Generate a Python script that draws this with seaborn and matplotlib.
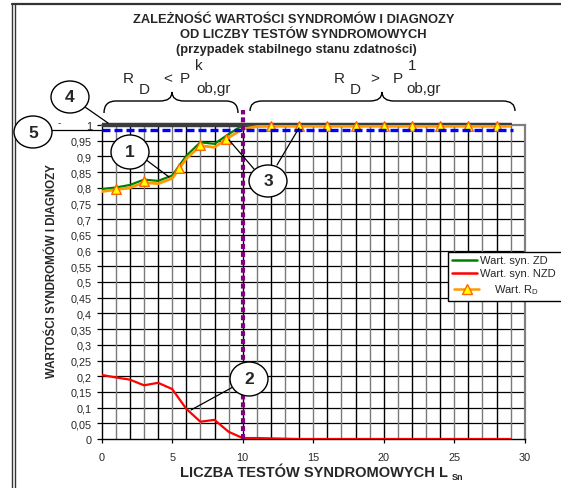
import numpy as np
import pandas as pd
import matplotlib
matplotlib.use("Agg")
import matplotlib.pyplot as plt
import seaborn as sns
from matplotlib.patches import Ellipse, Rectangle, PathPatch
from matplotlib.path import Path
from matplotlib.lines import Line2D

# ---- data -------------------------------------------------------------
tests = list(range(30))  # number of syndrome tests L_Sn
syn_zd = [0.796, 0.801, 0.809, 0.826, 0.822, 0.839, 0.902, 0.945, 0.940, 0.971,
          0.999, 1.0, 1.0, 1.0, 1.0, 1.0, 1.0, 1.0, 1.0, 1.0,
          1.0, 1.0, 1.0, 1.0, 1.0, 1.0, 1.0, 1.0, 1.0, 1.0]
syn_nzd = [0.204, 0.196, 0.189, 0.171, 0.179, 0.159, 0.096, 0.055, 0.061, 0.023,
           0.003, 0.003, 0.002, 0.001, 0.0, 0.0, 0.0, 0.0, 0.0, 0.0,
           0.0, 0.0, 0.0, 0.0, 0.0, 0.0, 0.0, 0.0, 0.0, 0.0]
rd_line = [0.788, 0.794, 0.800, 0.817, 0.813, 0.830, 0.893, 0.934, 0.929, 0.960,
           0.987, 0.995, 0.997, 0.997, 0.997, 0.997, 0.997, 0.997, 0.997, 0.997,
           0.997, 0.997, 0.997, 0.997, 0.997, 0.997, 0.997, 0.997, 0.997, 0.997]
rd_mark_x = [1, 3, 5.5, 7, 8.8, 12, 14, 16, 18, 20, 22, 24, 26, 28]
rd_mark_y = [0.795, 0.822, 0.862, 0.936, 0.957, 0.997, 0.997, 0.997, 0.997,
             0.997, 0.997, 0.997, 0.997, 0.997]
p_threshold = 0.985     # blue dashed level (5)
upper_level = 1.0       # dark reference line (4)
switch_point = 10       # boundary between the two regimes

x_ticks = [0, 5, 10, 15, 20, 25, 30]
y_ticks = [round(v * 0.05, 2) for v in range(21)]
y_tick_labels = [("%g" % v).replace(".", ",") for v in y_ticks]

df = pd.DataFrame({"L": tests, "ZD": syn_zd, "NZD": syn_nzd, "RD": rd_line})
marks = pd.DataFrame({"L": rd_mark_x, "RD": rd_mark_y})

# ---- figure -----------------------------------------------------------
sns.set_style("white")
plt.rcParams["font.family"] = ["Liberation Sans", "DejaVu Sans"]

W, H = 561, 489
fig = plt.figure(figsize=(W / 100, H / 100), dpi=100)


def fx(x):
    return x / W


def fy(y):
    return 1 - y / H


ax = fig.add_axes([fx(101.7), fy(440), 423 / W, 314 / H])
ax.set_xlim(0, 30)
ax.set_ylim(0, 1)

# grid: horizontal every 0.05, vertical every unit (alternating shades)
for v in y_ticks[1:-1]:
    ax.axhline(v, color="black", lw=0.9, zorder=1)
for k in range(1, 30):
    ax.axvline(k, color="#000000" if k % 2 == 0 else "#7a7a7a", lw=1.0, zorder=1)

# reference line (4)
ax.plot([0, 29.1], [upper_level, upper_level], color="#3c3c3c", lw=3.2,
        solid_capstyle="butt", zorder=3, clip_on=False)

sns.lineplot(data=df, x="L", y="ZD", color="#008000", lw=1.6, ax=ax, zorder=4)
sns.lineplot(data=df, x="L", y="RD", color="#ff9900", lw=2.0, ax=ax, zorder=5)
sns.scatterplot(data=marks, x="L", y="RD", marker="^", s=48, color="#ffff00",
                edgecolor="#ff6600", linewidth=1.0, ax=ax, zorder=6, clip_on=False)
sns.lineplot(data=df, x="L", y="NZD", color="#ff0000", lw=1.6, ax=ax, zorder=4)

# threshold (5)
ax.plot([0, 29.2], [p_threshold, p_threshold], color="#0000ff", lw=2.4,
        dashes=(2.4, 1.2), zorder=7, clip_on=False)
# regime boundary
ax.plot([switch_point, switch_point], [0, 1.048], color="#800080", lw=3.0,
        dashes=(1.2, 0.7), zorder=8, clip_on=False)

ax.set_xticks(x_ticks)
ax.set_xticklabels([str(v) for v in x_ticks], fontsize=7.8)
ax.set_yticks(y_ticks)
ax.set_yticklabels(y_tick_labels, fontsize=7.8)
ax.tick_params(axis="y", direction="out", length=3.6, width=0.9, pad=3.5,
               left=True, color="black")
ax.tick_params(axis="x", direction="out", length=3, width=0.9, pad=6.5,
               bottom=True, color="black")
ax.set_xlabel("")
ax.set_ylabel("")
for side in ("left", "bottom"):
    ax.spines[side].set_color("black")
    ax.spines[side].set_linewidth(1.0)
for side in ("top", "right"):
    ax.spines[side].set_color("#808080")
    ax.spines[side].set_linewidth(1.6)
    ax.spines[side].set_zorder(2)

# ---- outer frame ------------------------------------------------------
for xx in (12.3, 14.7):
    fig.add_artist(Line2D([fx(xx), fx(xx)], [fy(5), 0], color="#333333", lw=1.0))
fig.add_artist(Line2D([fx(12.3), 1], [fy(5), fy(5)], color="#333333", lw=1.6))

# ---- titles -----------------------------------------------------------
title_kw = dict(fontsize=9.3, fontweight="bold", ha="center", va="center")
fig.text(fx(294), fy(20), "ZALEŻNOŚĆ WARTOŚCI SYNDROMÓW I DIAGNOZY", **title_kw)
fig.text(fx(303), fy(35), "OD LICZBY TESTÓW SYNDROMOWYCH", **title_kw)
fig.text(fx(296), fy(50), "(przypadek stabilnego stanu zdatności)", **title_kw)

fig.text(fx(52), fy(271), "WARTOŚCI SYNDROMÓW I DIAGNOZY", fontsize=8.3,
         fontweight="bold", rotation=90, ha="center", va="center")
fig.text(fx(314), fy(473), "LICZBA TESTÓW SYNDROMOWYCH L", fontsize=10.5,
         fontweight="bold", ha="center", va="center")
fig.text(fx(458), fy(478), "Sn", fontsize=6.5, fontweight="bold",
         ha="center", va="center")

# small stray mark at the top of the value axis
fig.text(fx(59), fy(123), "-", fontsize=7, ha="center", va="center")

# ---- braces and regime labels ------------------------------------------


def brace(x0, x1, xm, yb, ym, yt, r=12):
    pts = [(x0, yb), (x0, ym), (x0 + r, ym),
           (xm - r, ym),
           (xm, ym), (xm, yt),
           (xm, ym), (xm + r, ym),
           (x1 - r, ym),
           (x1, ym), (x1, yb)]
    codes = [Path.MOVETO, Path.CURVE3, Path.CURVE3,
             Path.LINETO,
             Path.CURVE3, Path.CURVE3,
             Path.CURVE3, Path.CURVE3,
             Path.LINETO,
             Path.CURVE3, Path.CURVE3]
    verts = [(fx(a), fy(b)) for a, b in pts]
    fig.add_artist(PathPatch(Path(verts, codes), transform=fig.transFigure,
                             fill=False, edgecolor="black", lw=1.0))


brace(104, 238, 172, 114, 102, 93)
brace(250, 515, 382, 112, 102, 93)

reg_kw = dict(fontsize=11, ha="center", va="center")
fig.text(fx(128), fy(79), "R", **reg_kw)
fig.text(fx(144), fy(90), "D", **reg_kw)
fig.text(fx(168), fy(79), "<", **reg_kw)
fig.text(fx(185), fy(79), "P", **reg_kw)
fig.text(fx(199), fy(66), "k", **reg_kw)
fig.text(fx(214), fy(89), "ob,gr", **reg_kw)

fig.text(fx(339), fy(79), "R", **reg_kw)
fig.text(fx(355), fy(90), "D", **reg_kw)
fig.text(fx(375), fy(79), ">", **reg_kw)
fig.text(fx(398), fy(79), "P", **reg_kw)
fig.text(fx(412), fy(66), "1", **reg_kw)
fig.text(fx(424), fy(89), "ob,gr", **reg_kw)

# ---- numbered callouts --------------------------------------------------


def callout(label, cx, cy, rx, ry, leaders):
    for (a, b), (c, d) in leaders:
        fig.add_artist(Line2D([fx(a), fx(c)], [fy(b), fy(d)], color="black",
                              lw=0.9, zorder=20))
    fig.add_artist(Ellipse((fx(cx), fy(cy)), 2 * rx / W, 2 * ry / H,
                           transform=fig.transFigure, facecolor="white",
                           edgecolor="black", lw=1.0, zorder=21))
    fig.text(fx(cx), fy(cy), label, fontsize=12.5, fontweight="bold",
             ha="center", va="center", zorder=22)


callout("4", 70, 98, 19, 16, [((85, 108), (108, 124))])
callout("5", 33, 133, 19, 16, [((50, 131), (101, 131))])
callout("1", 130, 153, 19, 17, [((145, 160), (169, 178))])
callout("3", 268, 182, 19, 16, [((254, 170), (229, 141)),
                                ((277, 166), (299, 129))])
callout("2", 249, 380, 19, 17, [((233, 388), (191, 411))])

# ---- legend -------------------------------------------------------------
fig.add_artist(Rectangle((fx(448), fy(302)), 120 / W, 49 / H,
                         transform=fig.transFigure, facecolor="white",
                         edgecolor="black", lw=1.0, zorder=25))
leg_kw = dict(fontsize=8, ha="left", va="center", zorder=26)
fig.add_artist(Line2D([fx(452), fx(477)], [fy(261), fy(261)], color="#008000",
                      lw=1.8, zorder=26))
fig.text(fx(480), fy(261), "Wart. syn. ZD", **leg_kw)
fig.add_artist(Line2D([fx(452), fx(477)], [fy(274), fy(274)], color="#ff0000",
                      lw=1.8, zorder=26))
fig.text(fx(480), fy(274), "Wart. syn. NZD", **leg_kw)
fig.add_artist(Line2D([fx(454), fx(479)], [fy(290), fy(290)], color="#ff9900",
                      lw=1.8, zorder=26))
fig.add_artist(Line2D([fx(466.5)], [fy(290)], color="#ffff00", marker="^",
                      markersize=7, markeredgecolor="#ff6600", lw=0, zorder=27))
fig.text(fx(494), fy(290), "Wart. R$_\\mathregular{D}$", **leg_kw)

fig.savefig("out.png", dpi=100)
